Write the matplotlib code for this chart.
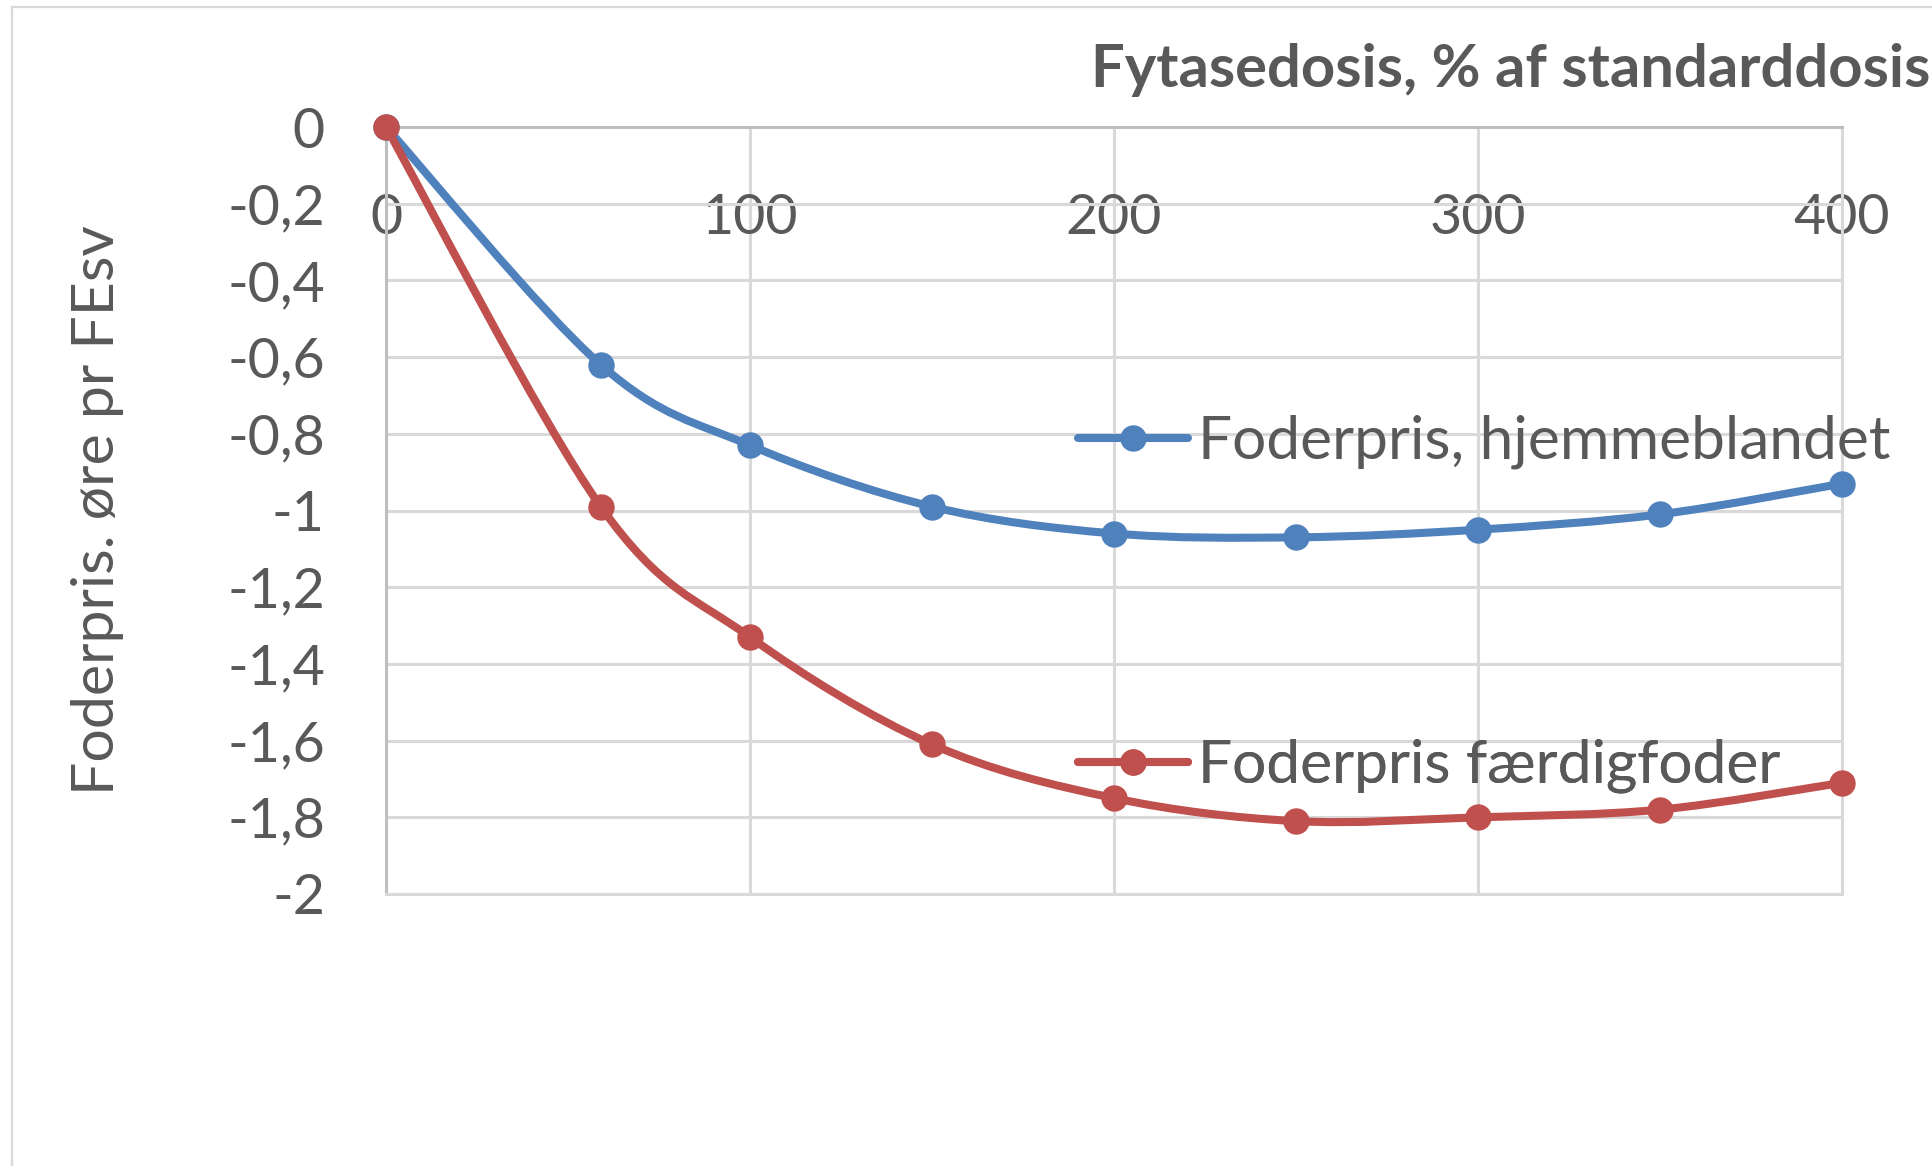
import matplotlib
matplotlib.use("Agg")
import matplotlib.pyplot as plt
from matplotlib.path import Path
from matplotlib.patches import PathPatch, Rectangle
from matplotlib.lines import Line2D

plt.rcParams['font.family'] = ['Lato', 'DejaVu Sans']

# data
dosis = [0, 59, 100, 150, 200, 250, 300, 350, 400]
hjemmeblandet = [0, -0.62, -0.83, -0.99, -1.06, -1.07, -1.05, -1.01, -0.93]
faerdigfoder = [0, -0.99, -1.33, -1.61, -1.75, -1.81, -1.80, -1.78, -1.71]
series_names = ['Foderpris, hjemmeblandet', 'Foderpris færdigfoder']
x_ticks = [0, 100, 200, 300, 400]
y_ticks = [0, -0.2, -0.4, -0.6, -0.8, -1, -1.2, -1.4, -1.6, -1.8, -2]
y_ticklabels = ['0', '-0,2', '-0,4', '-0,6', '-0,8', '-1', '-1,2', '-1,4', '-1,6', '-1,8', '-2']
x_title = 'Fytasedosis, % af standarddosis'
y_title = 'Foderpris. øre pr FEsv'

BLUE = '#4F81BD'
RED = '#C0504D'
TXT = '#595959'
GRID = '#D9D9D9'
AX = '#BFBFBF'
W, H = 1933, 1166
FS = 40
FS_LEG = 43.5


def smooth_path(xs, ys):
    # excel-like smoothed line: bezier segments with catmull-rom control points
    pts = list(zip(xs, ys))
    n = len(pts)
    verts = [pts[0]]
    codes = [Path.MOVETO]
    for i in range(n - 1):
        p0 = pts[max(i - 1, 0)]
        p1 = pts[i]
        p2 = pts[i + 1]
        p3 = pts[min(i + 2, n - 1)]
        c1 = (p1[0] + (p2[0] - p0[0]) / 6, p1[1] + (p2[1] - p0[1]) / 6)
        c2 = (p2[0] - (p3[0] - p1[0]) / 6, p2[1] - (p3[1] - p1[1]) / 6)
        verts += [c1, c2, p2]
        codes += [Path.CURVE4] * 3
    return Path(verts, codes)


fig = plt.figure(figsize=(W / 100, H / 100), dpi=100)
ax = fig.add_axes([386 / W, 1 - 894 / H, (1842 - 386) / W, (894 - 127) / H])

for ys, col in [(hjemmeblandet, BLUE), (faerdigfoder, RED)]:
    ax.add_patch(PathPatch(smooth_path(dosis, ys), fill=False, edgecolor=col,
                           lw=5.8, capstyle='round', joinstyle='round', zorder=3))
    ax.plot(dosis, ys, 'o', color=col, markersize=18, zorder=4, clip_on=False)

ax.set_xlim(0, 400)
ax.set_ylim(-2, 0)
ax.set_xticks(x_ticks)
ax.set_yticks(y_ticks)
ax.set_yticklabels(y_ticklabels)
ax.xaxis.tick_top()
ax.tick_params(axis='x', length=0, pad=-84, labelsize=FS, labelcolor=TXT)
ax.tick_params(axis='y', length=0, pad=44, labelsize=FS, labelcolor=TXT)
ax.grid(True, color=GRID, lw=2.2, zorder=0)
ax.set_axisbelow(True)
for s in ['top', 'left']:
    ax.spines[s].set_color(AX)
    ax.spines[s].set_linewidth(2.2)
for s in ['bottom', 'right']:
    ax.spines[s].set_color(GRID)
    ax.spines[s].set_linewidth(2.2)

ax.set_ylabel(y_title, fontsize=42.5, color=TXT, va='center')
ax.yaxis.set_label_coords((97 - 386) / (1842 - 386), 0.5)

fig.text(1091 / W, 1 - 87 / H, x_title, ha='left', va='baseline',
         fontsize=43, fontweight='bold', color=TXT)

# two legend entries, placed separately like in the original
for name, col, yc in [(series_names[0], BLUE, 442), (series_names[1], RED, 766)]:
    h = Line2D([], [], color=col, lw=5.8, marker='o', markersize=18,
               solid_capstyle='round')
    leg = ax.legend([h], [name], loc='center left',
                    bbox_to_anchor=(1078 / W, 1 - yc / H),
                    bbox_transform=fig.transFigure, frameon=False,
                    fontsize=FS_LEG, handlelength=1.82, handletextpad=0.17,
                    borderpad=0, borderaxespad=0, labelcolor=TXT)
    ax.add_artist(leg)

fig.add_artist(Rectangle((12 / W, -0.1), 1.2, 1 - 7 / H + 0.1,
                         transform=fig.transFigure, fill=False,
                         edgecolor=GRID, lw=1.6))

fig.savefig('out.png', dpi=100)
